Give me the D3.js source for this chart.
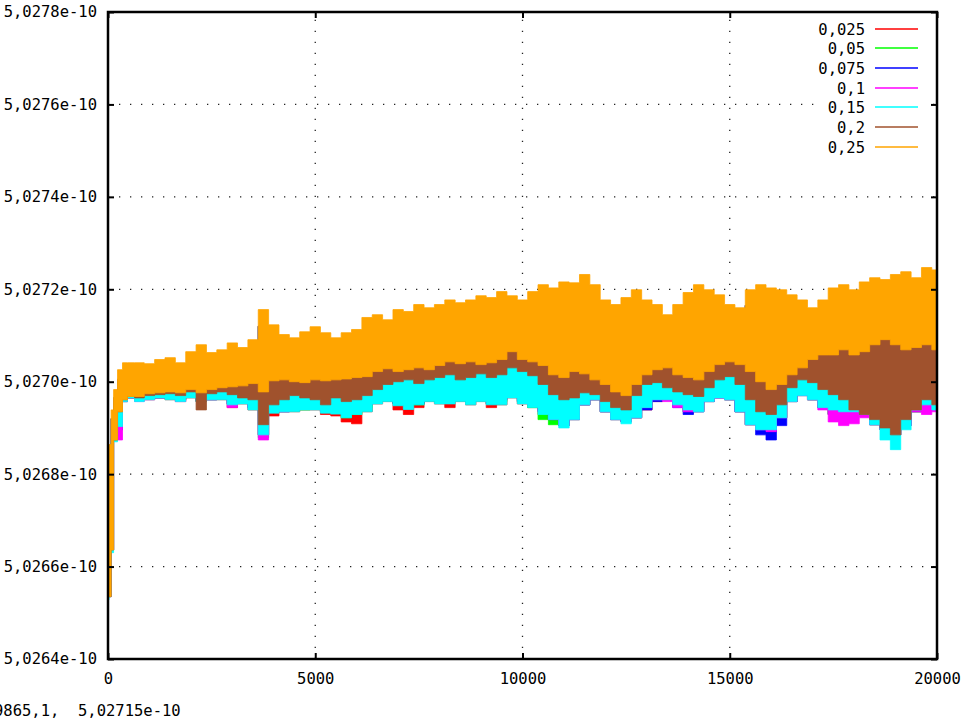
<!DOCTYPE html>
<html>
<head>
<meta charset="utf-8">
<script src="https://cdn.jsdelivr.net/npm/d3@7"></script>
<style>
  body { margin: 0; background: #fff; }
  svg text { font-family: "DejaVu Sans Mono", monospace; font-size: 15.5px; fill: #000; }
</style>
</head>
<body>
<script>
// gnuplot-like noisy runs, drawn as min/max envelopes
// values below are offsets above base, in units of 1e-15
var base = 5.027e-10, unit = 1e-15;

var steps = [0, 50, 100, 170, 290, 410, 530,
  750, 1000, 1250, 1500, 1750, 2000, 2250, 2500, 2750, 3000,
  3250, 3500, 3750, 4000, 4250, 4500, 4750, 5000, 5250, 5500,
  5750, 6000, 6250, 6500, 6750, 7000, 7250, 7500, 7750, 8000,
  8250, 8500, 8750, 9000, 9250, 9500, 9750, 10000, 10250, 10500,
  10750, 11000, 11250, 11500, 11750, 12000, 12250, 12500, 12750, 13000,
  13250, 13500, 13750, 14000, 14250, 14500, 14750, 15000, 15250, 15500,
  15750, 16000, 16250, 16500, 16750, 17000, 17250, 17500, 17750, 18000,
  18250, 18500, 18750, 19000, 19250, 19500, 19750, 20000];

// upper envelope of 0.25
var hi025 = [-14.1, -13.6, -6.1, -1.7, 2.6, 4.1, 4.1,
  4.1, 3.9, 4.8, 5.2, 4.1, 6.5, 8.0, 6.3, 6.9, 8.4,
  7.4, 9.1, 15.6, 12.3, 10.2, 9.5, 10.8, 11.9, 10.6, 9.5,
  10.6, 11.3, 13.9, 14.5, 13.4, 15.6, 15.2, 16.7, 16.0, 16.7,
  17.7, 17.1, 17.7, 18.6, 18.2, 19.5, 18.6, 17.7, 19.5, 21.0,
  20.3, 21.6, 21.4, 23.2, 21.0, 17.7, 16.7, 18.2, 19.9, 17.7,
  16.7, 14.5, 16.7, 19.3, 21.0, 19.9, 18.8, 16.7, 16.0, 19.9,
  21.0, 20.3, 19.9, 18.8, 17.7, 16.0, 17.7, 20.3, 21.0, 19.9,
  21.6, 22.5, 22.1, 23.2, 23.8, 22.5, 24.7, 24.2];

// upper envelope of the other runs (hidden behind 0.25)
var hiRest = [-16.0, -15.5, -8.0, -3.5, 0.5, 2.0, 2.0,
  1.5, 1.5, 2.2, 2.8, 1.8, 3.9, 5.0, 3.8, 4.2, 5.5,
  4.6, 6.1, 12.0, 9.0, 7.4, 6.8, 7.9, 8.8, 7.8, 6.9,
  7.7, 8.4, 10.7, 11.2, 10.3, 12.4, 12.0, 13.4, 12.8, 13.3,
  14.3, 13.8, 14.4, 15.2, 14.8, 16.0, 15.2, 14.5, 16.1, 17.4,
  16.9, 18.0, 17.8, 19.4, 17.5, 14.6, 13.7, 15.0, 16.5, 14.6,
  13.6, 11.6, 13.6, 16.0, 17.5, 16.5, 15.5, 13.6, 13.0, 16.5,
  17.4, 16.9, 16.5, 15.5, 14.6, 13.0, 14.6, 16.9, 17.5, 16.5,
  18.0, 18.8, 18.5, 19.4, 19.9, 18.8, 20.6, 20.3];

// lower envelopes
var lo025 = [-46.5, -46.5, -36.4, -12.6, -6.5, -3.9, -3.2,
  -3.2, -2.6, -2.4, -2.2, -2.4, -1.7, -2.4, -1.7, -1.3, -1.1,
  -0.9, -0.4, -2.2, 0.2, 0.4, 0.0, -0.2, 0.4, 0.2, 0.4,
  0.6, 0.9, 1.1, 2.2, 2.8, 2.2, 2.6, 3.0, 2.6, 3.5,
  4.3, 3.9, 4.3, 3.7, 4.1, 4.8, 6.5, 4.8, 4.3, 3.5,
  1.5, 0.9, 2.2, 1.7, 0.4, -0.6, -2.2, -3.0, -0.6, 1.5,
  2.6, 3.0, 1.5, 0.9, 0.4, 2.2, 3.7, 4.3, 3.7, 2.2,
  0.0, -1.7, -0.6, 1.5, 3.0, 4.8, 5.8, 5.8, 6.9, 5.8,
  6.5, 8.0, 9.1, 8.0, 6.9, 7.4, 8.0, 6.9];

var lo02 = [-46.5, -46.5, -36.4, -12.6, -6.5, -3.9, -3.2,
  -3.5, -3.0, -2.8, -2.6, -3.0, -2.2, -6.1, -2.6, -2.2, -2.8,
  -3.5, -3.9, -9.3, -5.0, -3.9, -3.0, -3.5, -3.9, -5.0, -3.5,
  -4.3, -3.9, -3.0, -1.7, -0.6, 0.0, 0.4, -0.4, 0.4, 0.9,
  1.5, 0.4, 0.9, 1.7, 0.9, 1.5, 3.0, 2.2, 1.3, -0.6,
  -2.8, -3.9, -3.5, -2.4, -2.8, -4.3, -5.6, -6.1, -3.0, -0.6,
  -0.2, -1.3, -2.2, -2.8, -3.2, -1.3, 0.4, 1.1, -0.6, -3.9,
  -6.5, -7.1, -5.0, -1.3, 0.4, -0.2, -1.7, -2.8, -3.9, -6.1,
  -7.1, -8.2, -10.0, -11.5, -8.2, -6.1, -3.9, -5.0];

var lo015 = [-47.2, -46.5, -37.0, -13.0, -9.7, -4.3, -3.5,
  -4.3, -3.9, -3.5, -3.9, -4.3, -3.5, -4.3, -3.9, -3.9, -5.0,
  -4.8, -6.1, -11.5, -6.8, -6.5, -6.5, -6.1, -6.1, -6.8, -7.0,
  -7.8, -7.1, -6.5, -4.8, -4.3, -5.2, -6.0, -5.0, -4.3, -4.8,
  -4.8, -4.3, -5.0, -4.3, -5.0, -5.0, -3.5, -4.8, -5.6, -7.1,
  -8.2, -10.0, -8.2, -5.0, -3.9, -6.5, -8.2, -9.1, -7.8, -5.6,
  -3.9, -3.9, -5.0, -6.1, -6.5, -4.3, -3.5, -3.9, -6.5, -9.3,
  -10.4, -10.4, -7.8, -4.3, -3.0, -3.9, -5.6, -6.1, -6.5, -6.5,
  -7.1, -9.3, -12.6, -14.7, -10.4, -6.1, -5.0, -6.1];

var lo01 = [-46.5, -46.5, -36.4, -12.6, -12.6, -4.3, -3.5,
  -4.3, -3.9, -3.5, -3.5, -4.3, -3.0, -3.9, -3.9, -3.5, -5.6,
  -4.3, -5.6, -12.6, -6.5, -6.5, -5.6, -5.6, -5.0, -6.5, -6.5,
  -7.1, -6.5, -5.0, -3.9, -3.0, -4.3, -3.9, -4.3, -3.5, -3.9,
  -3.9, -3.5, -3.9, -3.5, -4.3, -3.9, -3.0, -3.9, -5.0, -6.5,
  -8.2, -9.5, -8.2, -5.0, -3.9, -6.5, -8.2, -8.7, -7.8, -5.6,
  -3.9, -4.3, -5.6, -6.5, -6.5, -4.3, -3.5, -3.9, -6.5, -9.3,
  -10.4, -10.8, -7.8, -4.3, -3.0, -3.9, -6.1, -8.7, -9.5, -9.1,
  -7.8, -9.3, -10.4, -11.5, -9.5, -6.5, -7.1, -6.5];

var lo0075 = [-46.5, -46.5, -36.4, -12.6, -10.4, -4.3, -3.5,
  -3.9, -3.5, -3.5, -3.2, -3.9, -3.0, -4.3, -3.9, -3.5, -4.8,
  -4.3, -5.6, -11.5, -6.5, -6.5, -6.1, -5.6, -5.6, -6.5, -6.5,
  -7.1, -6.5, -5.0, -3.9, -3.5, -4.8, -4.3, -4.8, -3.9, -4.3,
  -3.9, -3.5, -4.3, -3.5, -4.8, -3.9, -3.0, -4.3, -5.0, -6.5,
  -8.2, -9.5, -8.2, -5.0, -3.9, -6.5, -8.2, -8.7, -7.8, -6.1,
  -4.3, -3.9, -5.6, -7.1, -6.5, -4.3, -3.5, -3.9, -6.5, -9.3,
  -11.5, -12.6, -9.5, -4.3, -3.0, -3.9, -5.6, -7.1, -7.8, -7.1,
  -7.1, -9.3, -10.4, -11.5, -9.5, -6.5, -6.1, -6.1];

var lo005 = [-46.5, -46.5, -36.4, -12.6, -10.4, -4.3, -3.5,
  -3.9, -3.5, -3.5, -3.5, -3.9, -3.0, -4.3, -3.9, -3.5, -4.8,
  -4.3, -5.6, -12.1, -6.5, -6.5, -6.1, -6.1, -5.6, -6.5, -6.5,
  -7.8, -7.1, -5.6, -3.9, -3.5, -4.8, -4.3, -5.0, -3.9, -4.3,
  -4.3, -3.9, -4.3, -3.9, -4.8, -4.3, -3.0, -4.3, -5.6, -8.2,
  -9.3, -9.5, -8.2, -5.0, -3.9, -6.5, -8.2, -8.7, -7.8, -5.6,
  -3.9, -3.5, -5.0, -6.5, -6.5, -4.3, -3.0, -3.9, -6.5, -9.3,
  -10.4, -10.8, -7.8, -4.3, -3.0, -3.9, -5.6, -7.1, -7.1, -6.5,
  -7.1, -9.3, -10.4, -11.5, -9.5, -6.5, -5.6, -6.1];

var lo0025 = [-46.5, -46.5, -36.4, -12.6, -10.4, -4.3, -3.5,
  -3.9, -3.9, -3.5, -3.9, -4.3, -3.5, -4.3, -3.9, -3.9, -5.6,
  -4.8, -6.1, -11.5, -7.4, -6.5, -6.5, -6.1, -6.1, -7.1, -7.4,
  -8.7, -9.1, -6.5, -4.8, -4.3, -6.1, -7.1, -5.6, -4.3, -4.8,
  -5.6, -4.3, -5.0, -4.3, -5.6, -5.0, -3.5, -4.8, -5.6, -7.1,
  -8.2, -9.5, -8.2, -5.0, -3.9, -6.5, -8.2, -8.7, -7.8, -6.1,
  -4.3, -3.9, -5.0, -6.1, -6.1, -4.3, -3.5, -3.9, -6.5, -9.3,
  -10.4, -10.4, -7.8, -4.3, -3.0, -3.9, -5.6, -7.1, -7.1, -6.5,
  -7.1, -9.3, -10.4, -11.5, -9.5, -6.5, -5.6, -6.1];

var labels = ['0,025', '0,05', '0,075', '0,1', '0,15', '0,2', '0,25'];
var colors = ['#ff0000', '#00ff00', '#0000ff', '#ff00ff', '#00ffff', '#a0522d', '#ffa500'];
var lows = [lo0025, lo005, lo0075, lo01, lo015, lo02, lo025];
var highs = [hiRest, hiRest, hiRest, hiRest, hiRest, hiRest, hi025];

var xTicks = [0, 5000, 10000, 15000, 20000];
var yTicks = [5.0264e-10, 5.0266e-10, 5.0268e-10, 5.027e-10, 5.0272e-10, 5.0274e-10, 5.0276e-10, 5.0278e-10];
var readout = '9865,1,  5,02715e-10';

var W = 961, H = 721;
// plot box (avoid the name "top", it is window.top in a browser)
var box = {x0: 108, x1: 937, y0: 12, y1: 659};

var svg = d3.select('body').append('svg')
    .attr('width', W)
    .attr('height', H);

var xScale = d3.scaleLinear().domain([0, 20000]).range([box.x0, box.x1]);
var yScale = d3.scaleLinear().domain([5.0264e-10, 5.0278e-10]).range([box.y1, box.y0]);

var comma = d3.formatLocale({decimal: ',', thousands: '.', grouping: [3], currency: ['', '']});
var yFmt = comma.format('.4e');

// grid, behind the data
var grid = svg.append('g')
    .attr('stroke', '#222').attr('stroke-width', 1.3).attr('stroke-dasharray', '1.3 9.7');
grid.selectAll('line.gx')
  .data(xTicks.slice(1, -1))
  .enter().append('line')
    .attr('x1', function (d) { return xScale(d); })
    .attr('x2', function (d) { return xScale(d); })
    .attr('y1', box.y1).attr('y2', box.y0);
grid.selectAll('line.gy')
  .data(yTicks.slice(1, -1))
  .enter().append('line')
    .attr('y1', function (d) { return yScale(d); })
    .attr('y2', function (d) { return yScale(d); })
    .attr('x1', box.x0).attr('x2', box.x1);

svg.append('clipPath').attr('id', 'plot')
  .append('rect').attr('x', box.x0).attr('y', box.y0)
    .attr('width', box.x1 - box.x0).attr('height', box.y1 - box.y0);

var area = d3.area()
    .curve(d3.curveStep)
    .x(function (d) { return xScale(d[0]); })
    .y0(function (d) { return yScale(base + d[1] * unit); })
    .y1(function (d) { return yScale(base + d[2] * unit); });

var runs = svg.append('g').attr('clip-path', 'url(#plot)');
labels.forEach(function (lab, i) {
  var pts = steps.map(function (s, j) { return [s, lows[i][j], highs[i][j]]; });
  runs.append('path')
    .datum(pts)
    .attr('fill', colors[i])
    .attr('stroke', colors[i])
    .attr('stroke-width', 0.8)
    .attr('d', area);
});

// axes with inward ticks, mirrored on top and right
function styleAxis(g, hideText) {
  g.select('.domain').remove();
  g.selectAll('.tick line').attr('stroke', '#000').attr('stroke-width', 2);
  g.selectAll('.tick text').style('font-family', '"DejaVu Sans Mono", monospace').style('font-size', '15.5px');
  if (hideText) g.selectAll('.tick text').remove();
}

svg.append('g')
    .attr('transform', 'translate(' + box.x0 + ',0)')
    .call(d3.axisLeft(yScale).tickValues(yTicks).tickFormat(yFmt).tickSize(-6).tickPadding(11))
    .call(styleAxis, false);
svg.append('g')
    .attr('transform', 'translate(' + box.x1 + ',0)')
    .call(d3.axisRight(yScale).tickValues(yTicks).tickSize(-6))
    .call(styleAxis, true);
svg.append('g')
    .attr('transform', 'translate(0,' + box.y1 + ')')
    .call(d3.axisBottom(xScale).tickValues(xTicks).tickFormat(d3.format('d')).tickSize(-6).tickPadding(14))
    .call(styleAxis, false);
svg.append('g')
    .attr('transform', 'translate(0,' + box.y0 + ')')
    .call(d3.axisTop(xScale).tickValues(xTicks).tickSize(-6))
    .call(styleAxis, true);

svg.append('rect')
    .attr('x', box.x0).attr('y', box.y0)
    .attr('width', box.x1 - box.x0).attr('height', box.y1 - box.y0)
    .attr('fill', 'none').attr('stroke', '#000').attr('stroke-width', 2.5);

// legend, the key area hides the grid behind it
var legend = svg.append('g');
legend.append('rect')
    .attr('x', 814).attr('y', 18)
    .attr('width', 112).attr('height', 138)
    .attr('fill', '#fff');
labels.forEach(function (lab, i) {
  var ly = Math.round(28.5 + i * 19.7);
  legend.append('text')
    .attr('x', 865).attr('y', ly + 5.5)
    .attr('text-anchor', 'end')
    .text(lab);
  legend.append('line')
    .attr('x1', 875).attr('x2', 918)
    .attr('y1', ly).attr('y2', ly)
    .attr('stroke', colors[i]).attr('stroke-width', 1.5);
});

// mouse position readout of the terminal
svg.append('text')
    .attr('x', -6).attr('y', 716)
    .style('white-space', 'pre')
    .text(readout);
</script>
</body>
</html>
